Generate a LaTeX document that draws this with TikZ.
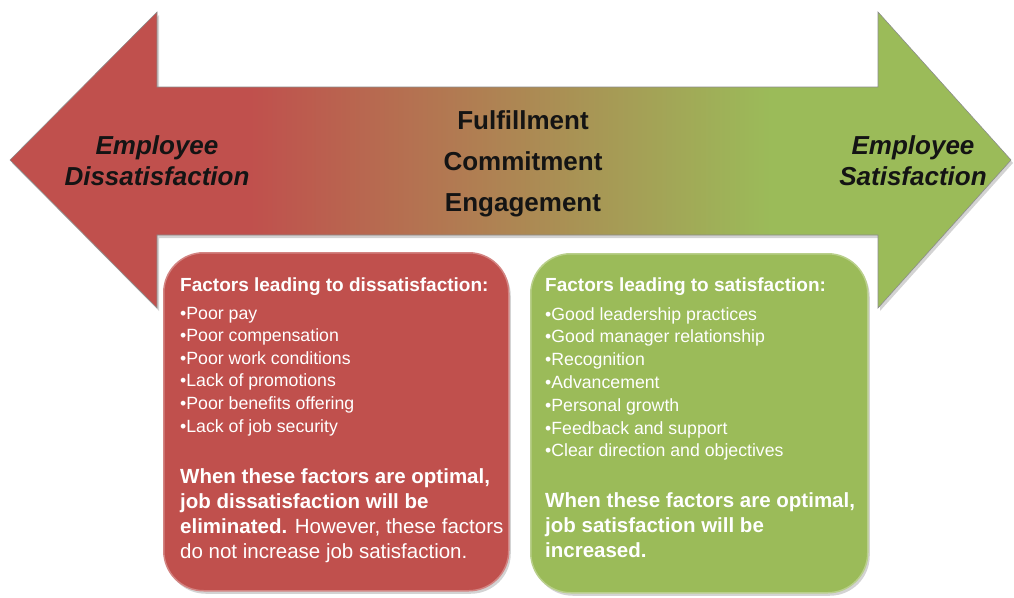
\documentclass[tikz,border=0pt]{standalone}
\usepackage{fontspec}
\setmainfont{Liberation Sans}
\usetikzlibrary{shadows}
\definecolor{ored}{HTML}{C0504D}
\definecolor{ogreen}{HTML}{9BBB59}
\pgfdeclarehorizontalshading{redgreen}{100bp}{color(0bp)=(ored); color(37bp)=(ored); color(63bp)=(ogreen); color(100bp)=(ogreen)}
\tikzset{
  arrowshape/.style={shading=redgreen, draw=black!45, line width=0.6pt,
    drop shadow={shadow xshift=2pt, shadow yshift=-3pt, opacity=0.35}},
  factorbox/.style={rounded corners=40pt, line width=1.5pt, anchor=north west,
    inner sep=0pt, drop shadow={shadow xshift=2pt, shadow yshift=-3pt, opacity=0.35}},
  sidelabel/.style={font=\fontsize{26}{31}\selectfont\bfseries\itshape, text=black!92, align=center, inner sep=0pt},
  midlabel/.style={font=\fontsize{26}{31}\selectfont\bfseries, text=black!92, anchor=base, inner sep=0pt},
  headtxt/.style={font=\fontsize{19}{23}\selectfont\bfseries, text=white, anchor=base west, inner sep=0pt},
  bultxt/.style={font=\fontsize{17.7}{21}\selectfont, text=white, anchor=base west, inner sep=0pt},
  paratxt/.style={font=\fontsize{20.5}{25}\selectfont, text=white, anchor=base west, inner sep=0pt},
}
\begin{document}
\begin{tikzpicture}[x=1pt, y=-1pt]
\useasboundingbox (0,0) rectangle (1014,597);
% double arrow
\path[arrowshape] (10,160) -- (157,12) -- (157,87) -- (878,87) -- (878,12)
  -- (1011,160) -- (878,308) -- (878,235) -- (157,235) -- (157,308) -- cycle;
% arrow labels
\node[sidelabel] (ldis) at (157,160.5) {Employee\\Dissatisfaction};
\node[sidelabel] (lsat) at (913,160.5) {Employee\\Satisfaction};
\node[midlabel] (mful) at (523,129.5) {Fulfillment};
\node[midlabel] (mcom) at (523,170.5) {Commitment};
\node[midlabel] (meng) at (523,211.5) {Engagement};
% boxes
\node[factorbox, fill=ored, draw=ored!70!white, minimum width=345pt, minimum height=338pt] (rbox) at (163,252) {};
\node[factorbox, fill=ogreen, draw=ogreen!70!white, minimum width=337pt, minimum height=339pt] (gbox) at (530,253) {};
% red box text
\node[headtxt] (rhead) at (180,291) {Factors leading to dissatisfaction:};
\foreach \t [count=\i] in {Poor pay, Poor compensation, Poor work conditions, Lack of promotions, Poor benefits offering, Lack of job security}
  \node[bultxt] (rb\i) at (180,{319+22.6*(\i-1)}) {\textbullet\t};
\node[paratxt] (rp1) at (180,483) {\bfseries When these factors are optimal,};
\node[paratxt] (rp2) at (180,508.3) {\bfseries job dissatisfaction will be};
\node[paratxt] (rp3) at (180,533.6) {\textbf{eliminated.} However, these factors};
\node[paratxt] (rp4) at (180,558.9) {do not increase job satisfaction.};
% green box text
\node[headtxt] (ghead) at (545,291) {Factors leading to satisfaction:};
\foreach \t [count=\i] in {Good leadership practices, Good manager relationship, Recognition, Advancement, Personal growth, Feedback and support, Clear direction and objectives}
  \node[bultxt] (gb\i) at (545,{320+22.8*(\i-1)}) {\textbullet\t};
\node[paratxt] (gp1) at (545,507) {\bfseries When these factors are optimal,};
\node[paratxt] (gp2) at (545,532.3) {\bfseries job satisfaction will be};
\node[paratxt] (gp3) at (545,557.6) {\bfseries increased.};
\end{tikzpicture}
\end{document}
